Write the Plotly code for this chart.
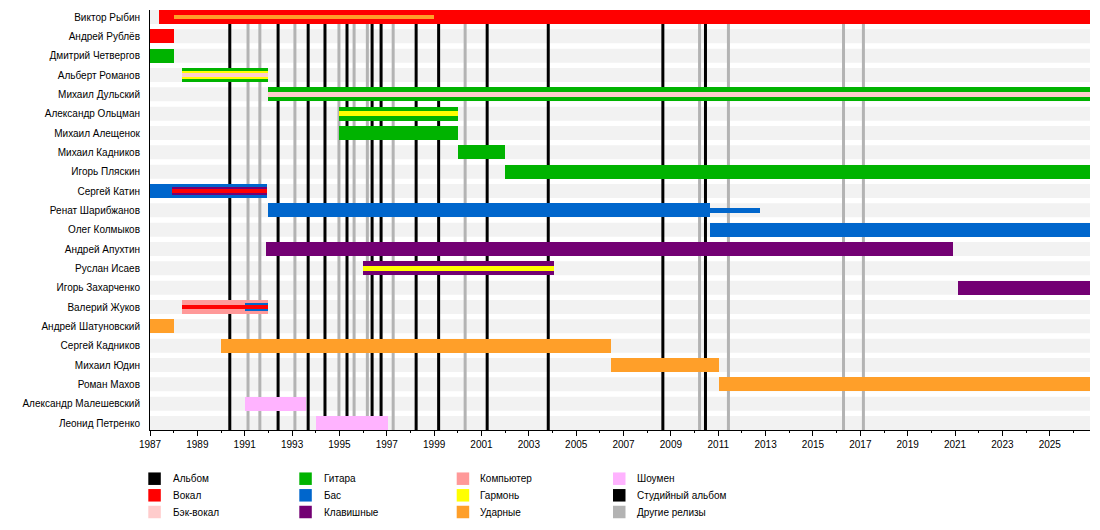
import plotly.graph_objects as go

# ---------------- data ----------------
members = [
    "Виктор Рыбин", "Андрей Рублёв", "Дмитрий Четвергов", "Альберт Романов",
    "Михаил Дульский", "Александр Ольцман", "Михаил Алещенок", "Михаил Кадников",
    "Игорь Пляскин", "Сергей Катин", "Ренат Шарибжанов", "Олег Колмыков",
    "Андрей Апухтин", "Руслан Исаев", "Игорь Захарченко", "Валерий Жуков",
    "Андрей Шатуновский", "Сергей Кадников", "Михаил Юдин", "Роман Махов",
    "Александр Малешевский", "Леонид Петренко",
]

START = 1987.0
END = 2026.7

# main bars (one per member)
main_row = list(range(22))
main_start = [1987.36, 1987.0, 1987.0, 1988.37, 1992.0, 1995.0, 1995.0, 2000.0,
              2002.0, 1987.0, 1992.0, 2010.64, 1991.9, 1996.0, 2021.13, 1988.37,
              1987.0, 1990.0, 2006.45, 2011.02, 1991.0, 1994.0]
main_end = [END, 1988.0, 1988.0, 1992.0, END, 2000.0, 2000.0, 2002.0,
            END, 1991.93, 2010.66, END, 2020.93, 2004.05, END, 1992.0,
            1988.0, 2006.48, 2011.05, END, 1993.6, 1997.05]
main_role = ["vocals", "vocals", "guitar", "guitar", "guitar", "guitar", "guitar", "guitar",
             "guitar", "bass", "bass", "bass", "keys", "keys", "keys", "computer",
             "drums", "drums", "drums", "drums", "showman", "showman"]

# middle-width overlay bars
mid_row = [3, 9, 15]
mid_start = [1988.37, 1987.95, 1991.0]
mid_end = [1992.0, 1991.93, 1992.0]
mid_role = ["harmonica", "keys", "bass"]

# thin overlay bars
thin_row = [0, 3, 4, 5, 9, 10, 13, 15]
thin_start = [1988.0, 1988.37, 1992.0, 1995.0, 1987.95, 2010.6, 1996.0, 1988.37]
thin_end = [1999.0, 1992.0, END, 2000.0, 1991.93, 2012.77, 2004.05, 1992.0]
thin_role = ["drums", "backing", "backing", "harmonica", "vocals", "bass", "harmonica", "vocals"]

# release lines
studio_albums = [1990.37, 1992.41, 1993.68, 1994.39, 1995.32, 1996.38, 1996.76,
                 1998.24, 1999.19, 2001.24, 2003.82, 2008.66, 2010.46]
other_releases = [1991.14, 1991.64, 1993.12, 1994.98, 1995.62, 1996.18, 1997.27,
                  2000.31, 2010.21, 2011.43, 2016.29, 2017.13]

year_ticks = list(range(1987, 2027, 2))

role_colors = {
    "album": "#000000",
    "vocals": "#FF0000",
    "backing": "#FFCCCC",
    "guitar": "#00B300",
    "bass": "#0066CC",
    "keys": "#730073",
    "computer": "#FF9999",
    "harmonica": "#FFFF00",
    "drums": "#FF9F29",
    "showman": "#FFB3FF",
    "studio": "#000000",
    "other": "#B3B3B3",
}

legend_roles = ["album", "vocals", "backing",
                "guitar", "bass", "keys",
                "computer", "harmonica", "drums",
                "showman", "studio", "other"]
legend_labels = ["Альбом", "Вокал", "Бэк-вокал",
                 "Гитара", "Бас", "Клавишные",
                 "Компьютер", "Гармонь", "Ударные",
                 "Шоумен", "Студийный альбом", "Другие релизы"]

# ---------------- styling / geometry ----------------
W, H = 1100, 530
ML, MR, MT, MB = 150, 10, 10, 100
PW, PH = W - ML - MR, H - MT - MB
ROW_PX = 19.33
BAR_PX = 14
half = BAR_PX / 2 / ROW_PX
FONT = "Liberation Sans, Arial, sans-serif"
N = len(members)

def u(px):
    return px / ROW_PX

fig = go.Figure()

def add_layer(rows, starts, ends, roles, width_px):
    fig.add_trace(go.Bar(
        orientation="h",
        y=rows,
        base=starts,
        x=[e - s for s, e in zip(starts, ends)],
        width=[u(width_px)] * len(rows),
        marker=dict(color=[role_colors[r] for r in roles], line=dict(width=0)),
        hoverinfo="skip",
        showlegend=False,
    ))

add_layer(main_row, main_start, main_end, main_role, BAR_PX)
add_layer(mid_row, mid_start, mid_end, mid_role, 8.6)
add_layer(thin_row, thin_start, thin_end, thin_role, 4.4)

y_bottom = N - 1 + half
y_top = -half

shapes = []
# row background stripes
for i in range(N):
    shapes.append(dict(type="rect", xref="x", yref="y", x0=START, x1=END,
                       y0=i - half, y1=i + half, fillcolor="#F2F2F2",
                       line=dict(width=0), layer="below"))
# release lines (same subplot layer, drawn above the stripes, below the bars)
for x in other_releases:
    shapes.append(dict(type="line", xref="x", yref="y", x0=x, x1=x, y0=y_bottom, y1=y_top,
                       line=dict(color=role_colors["other"], width=3), layer="below"))
for x in studio_albums:
    shapes.append(dict(type="line", xref="x", yref="y", x0=x, x1=x, y0=y_bottom, y1=y_top,
                       line=dict(color=role_colors["studio"], width=3), layer="below"))

# custom legend (pixel positions converted to paper coords)
def px_x(p):
    return (p - ML) / PW

def px_y(p):
    return (H - MB - p) / PH

col_sq = [148.3, 299.3, 456.7, 613.0]
col_tx = [170.7, 321.7, 478.3, 635.0]
row_cy = [478.7, 495.3, 512.0]
SQ = 12.5
annotations = []
for k, (role, label) in enumerate(zip(legend_roles, legend_labels)):
    c, r = divmod(k, 3)
    cy = row_cy[r]
    shapes.append(dict(type="rect", xref="paper", yref="paper",
                       x0=px_x(col_sq[c]), x1=px_x(col_sq[c] + SQ),
                       y0=px_y(cy + SQ / 2), y1=px_y(cy - SQ / 2),
                       fillcolor=role_colors[role], line=dict(width=0)))
    annotations.append(dict(xref="paper", yref="paper", x=px_x(col_tx[c]), y=px_y(cy),
                            text=label, showarrow=False, xanchor="left", yanchor="middle",
                            font=dict(family=FONT, size=10, color="black")))

fig.update_layout(
    width=W, height=H,
    margin=dict(l=ML, r=MR, t=MT, b=MB, pad=0),
    paper_bgcolor="white", plot_bgcolor="white",
    barmode="overlay",
    bargap=0,
    showlegend=False,
    shapes=shapes,
    annotations=annotations,
    font=dict(family=FONT, size=10, color="black"),
    xaxis=dict(
        range=[START, END],
        tickmode="array", tickvals=year_ticks, ticktext=[str(y) for y in year_ticks],
        ticks="outside", ticklen=5, tickwidth=1, tickcolor="black",
        minor=dict(tickmode="linear", tick0=1988, dtick=2, ticks="outside", ticklen=2,
                   tickcolor="black", tickwidth=1, showgrid=False),
        showline=True, linecolor="black", linewidth=1,
        showgrid=False, zeroline=False,
        tickfont=dict(family=FONT, size=10, color="black"),
        fixedrange=True,
    ),
    yaxis=dict(
        range=[y_bottom, y_top],
        tickmode="array", tickvals=list(range(N)), ticktext=members,
        ticks="", ticklabelstandoff=7,
        showline=True, linecolor="black", linewidth=1,
        showgrid=False, zeroline=False,
        tickfont=dict(family=FONT, size=10, color="black"),
        fixedrange=True,
    ),
)

fig.write_html("out.html", config={"displayModeBar": False},
               post_script="document.body.style.margin='0';")
